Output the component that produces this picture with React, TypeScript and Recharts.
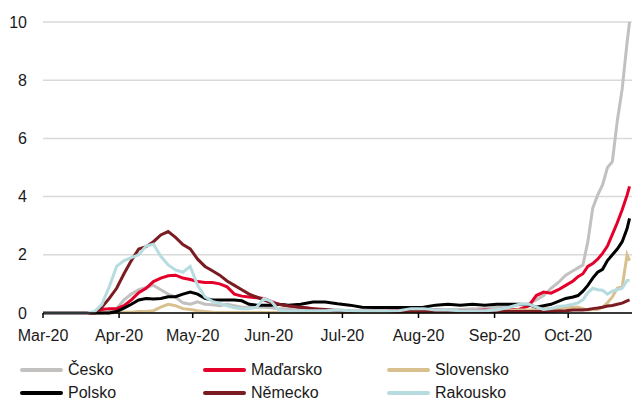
import React from "react";
import { LineChart, Line, XAxis, YAxis, CartesianGrid } from "recharts";

// day index counted from 1 March 2020
const days = [
  0, 18, 21, 24, 27, 30, 33, 36, 39, 42, 45, 48, 51, 54, 57, 60, 63, 66, 69, 72,
  75, 78, 81, 84, 87, 90, 93, 96, 100, 105, 110, 115, 120, 125, 130, 135, 140, 145, 150, 155,
  160, 165, 170, 175, 180, 185, 190, 194, 198, 201, 204, 207, 210, 213, 216, 218, 220, 222, 224, 226,
  228, 230, 232, 234, 236, 238, 239,
];

const cesko = [
  0, 0, 0, 0, 0.05, 0.15, 0.45, 0.65, 0.8, 0.88, 0.95, 0.8, 0.65, 0.55, 0.35, 0.3, 0.38, 0.3, 0.28, 0.25,
  0.3, 0.25, 0.2, 0.2, 0.2, 0.2, 0.18, 0.15, 0.15, 0.12, 0.1, 0.12, 0.1, 0.08, 0.08, 0.1, 0.1, 0.1, 0.12, 0.1,
  0.1, 0.12, 0.12, 0.15, 0.15, 0.2, 0.22, 0.28, 0.32, 0.45, 0.6, 0.85, 1.05, 1.3, 1.45, 1.55, 1.65, 2.45, 3.6, 4.05,
  4.4, 5.0, 5.2, 6.6, 7.7, 9.3, 10.0,
];

const madarsko = [
  0, 0, 0, 0.12, 0.15, 0.15, 0.25, 0.45, 0.7, 0.85, 1.08, 1.2, 1.28, 1.3, 1.2, 1.15, 1.08, 1.05, 1.05, 1.0,
  0.9, 0.65, 0.58, 0.55, 0.52, 0.5, 0.4, 0.3, 0.25, 0.2, 0.15, 0.08, 0.05, 0.05, 0.05, 0.05, 0.05, 0.08, 0.08, 0.12,
  0.1, 0.08, 0.08, 0.08, 0.1, 0.08, 0.1, 0.12, 0.25, 0.6, 0.72, 0.68, 0.8, 0.95, 1.1, 1.25, 1.35, 1.6, 1.7, 1.85,
  2.05, 2.3, 2.7, 3.1, 3.55, 4.05, 4.35,
];

const slovensko = [
  0, 0, 0, 0, 0, 0.02, 0.03, 0.03, 0.05, 0.05, 0.08, 0.2, 0.3, 0.25, 0.15, 0.12, 0.08, 0.05, 0.03, 0.02,
  0.02, 0.02, 0.02, 0.02, 0.02, 0.02, 0.02, 0.02, 0.02, 0.02, 0.02, 0.02, 0.02, 0.02, 0.02, 0.02, 0.02, 0.02, 0.03, 0.03,
  0.03, 0.03, 0.05, 0.05, 0.05, 0.08, 0.08, 0.1, 0.1, 0.12, 0.15, 0.15, 0.15, 0.18, 0.2, 0.2, 0.15, 0.1, 0.12, 0.12,
  0.2, 0.35, 0.55, 0.85, 0.9, 2.0, 1.8,
];

const polsko = [
  0, 0, 0, 0, 0, 0.05, 0.17, 0.3, 0.45, 0.5, 0.48, 0.5, 0.56, 0.56, 0.65, 0.72, 0.65, 0.5, 0.45, 0.45,
  0.45, 0.45, 0.42, 0.3, 0.27, 0.27, 0.27, 0.3, 0.27, 0.3, 0.38, 0.38, 0.32, 0.27, 0.2, 0.19, 0.19, 0.19, 0.19, 0.2,
  0.27, 0.3, 0.27, 0.3, 0.27, 0.3, 0.3, 0.3, 0.28, 0.2, 0.25, 0.3, 0.4, 0.5, 0.55, 0.6, 0.75, 0.95, 1.2, 1.4,
  1.5, 1.8, 2.0, 2.2, 2.45, 2.9, 3.25,
];

const nemecko = [
  0, 0, 0, 0.2, 0.5, 0.85, 1.35, 1.8, 2.2, 2.28, 2.45, 2.68, 2.8, 2.6, 2.35, 2.2, 1.85, 1.6, 1.45, 1.3,
  1.1, 0.95, 0.8, 0.65, 0.55, 0.45, 0.35, 0.3, 0.25, 0.2, 0.15, 0.12, 0.08, 0.06, 0.05, 0.05, 0.05, 0.05, 0.06, 0.06,
  0.06, 0.06, 0.06, 0.06, 0.05, 0.05, 0.05, 0.05, 0.05, 0.05, 0.05, 0.06, 0.07, 0.08, 0.1, 0.1, 0.1, 0.12, 0.15, 0.17,
  0.2, 0.24, 0.26, 0.3, 0.34, 0.42, 0.45,
];

const rakousko = [
  0, 0, 0.05, 0.3, 0.9, 1.6, 1.8, 1.9, 2.0, 2.3, 2.36, 1.95, 1.65, 1.48, 1.4, 1.6, 0.95, 0.55, 0.4, 0.33,
  0.25, 0.18, 0.15, 0.15, 0.2, 0.5, 0.4, 0.1, 0.05, 0.08, 0.08, 0.08, 0.1, 0.08, 0.05, 0.05, 0.05, 0.08, 0.15, 0.15,
  0.1, 0.1, 0.08, 0.08, 0.08, 0.1, 0.2, 0.3, 0.3, 0.2, 0.12, 0.15, 0.22, 0.25, 0.3, 0.35, 0.45, 0.7, 0.85, 0.8,
  0.78, 0.65, 0.75, 0.8, 0.85, 1.12, 1.12,
];

const monthTicks = [0, 31, 61, 92, 122, 153, 184, 214];
const monthLabels = ["Mar-20", "Apr-20", "May-20", "Jun-20", "Jul-20", "Aug-20", "Sep-20", "Oct-20"];
const yTicks = [0, 2, 4, 6, 8, 10];

const series = [
  { key: "cesko", name: "Česko", color: "#c3c0c0", values: cesko },
  { key: "madarsko", name: "Maďarsko", color: "#e4002b", values: madarsko },
  { key: "slovensko", name: "Slovensko", color: "#d8c08f", values: slovensko },
  { key: "polsko", name: "Polsko", color: "#000000", values: polsko },
  { key: "nemecko", name: "Německo", color: "#7a1c22", values: nemecko },
  { key: "rakousko", name: "Rakousko", color: "#b6dce0", values: rakousko },
];

const data = days.map((day, i) => {
  const row: Record<string, number> = { day };
  series.forEach((s) => {
    row[s.key] = s.values[i];
  });
  return row;
});

const font = "'Liberation Sans', Arial, sans-serif";

// legend placement: three columns, two rows
const legendCols = [12, 195, 379];
const legendRows = [362, 385];

const Legend2 = () => (
  <>
    {series.map((s, i) => {
      const col = i % 3;
      const row = Math.floor(i / 3);
      return (
        <div
          key={s.key}
          style={{
            position: "absolute",
            left: legendCols[col],
            top: legendRows[row] - 10,
            height: 20,
            display: "flex",
            alignItems: "center",
            fontFamily: font,
            fontSize: 16,
            color: "#1a1a1a",
            whiteSpace: "nowrap",
          }}
        >
          <span
            style={{
              display: "inline-block",
              width: 43,
              height: 4,
              borderRadius: 2,
              background: s.color,
              marginRight: 5,
            }}
          />
          {s.name}
        </div>
      );
    })}
  </>
);

export default function App() {
  return (
    <div style={{ position: "relative", width: 633, height: 393 }}>
      <LineChart
        width={633}
        height={393}
        data={data}
        margin={{ top: 14, right: 9, left: 0, bottom: 58 }}
      >
        <CartesianGrid vertical={false} stroke="#d9d9d9" strokeWidth={1.5} />
        <XAxis
          dataKey="day"
          type="number"
          domain={[0, 240]}
          ticks={monthTicks}
          tickFormatter={(v: number) => monthLabels[monthTicks.indexOf(v)]}
          axisLine={{ stroke: "#000", strokeWidth: 1.5 }}
          tickLine={{ stroke: "#000", strokeWidth: 1.5 }}
          tickSize={5}
          tickMargin={12}
          height={30}
          interval={0}
          tick={{ fill: "#1a1a1a", fontSize: 16, fontFamily: font }}
        />
        <YAxis
          domain={[0, 10]}
          ticks={yTicks}
          width={35}
          axisLine={false}
          tickLine={false}
          tickSize={0}
          tickMargin={16}
          tick={{ fill: "#1a1a1a", fontSize: 16, fontFamily: font }}
        />
        {series.map((s) => (
          <Line
            key={s.key}
            type="linear"
            dataKey={s.key}
            name={s.name}
            stroke={s.color}
            strokeWidth={3}
            dot={false}
            isAnimationActive={false}
          />
        ))}
      </LineChart>
      <Legend2 />
    </div>
  );
}
